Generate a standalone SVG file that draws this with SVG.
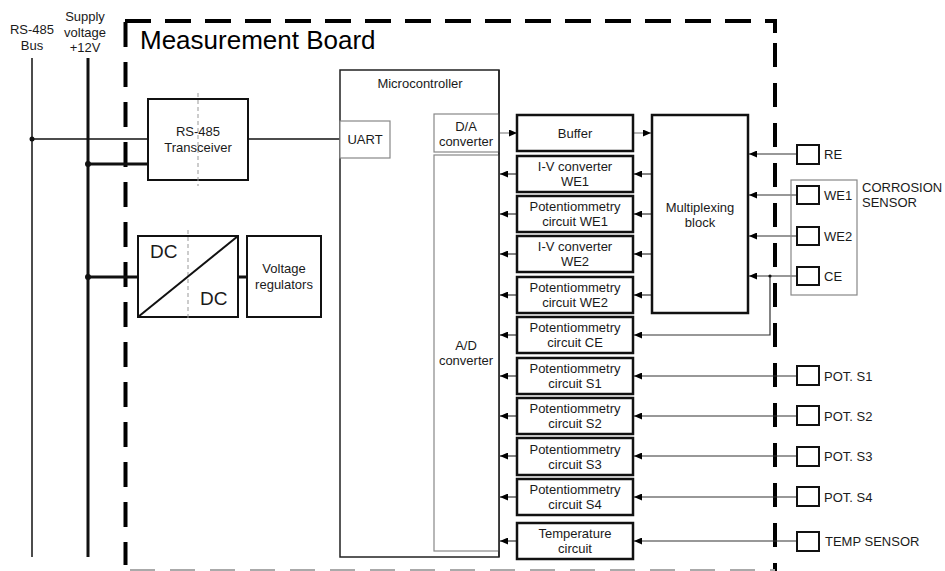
<svg xmlns="http://www.w3.org/2000/svg" width="945" height="571" viewBox="0 0 945 571">
<style>
text{font-family:"Liberation Sans",Arial,sans-serif;font-size:13px;fill:#1a1a1a}
.c{text-anchor:middle}
.blk{fill:#fff;stroke:#111;stroke-width:2.5}
.mid{fill:#fff;stroke:#111;stroke-width:2}
.gry{fill:#fff;stroke:#888;stroke-width:1.2}
.sq{fill:#fff;stroke:#111;stroke-width:2}
.ln{fill:none;stroke:#333;stroke-width:1.2}
.lg{fill:none;stroke:#888;stroke-width:1.2}
.ar{marker-end:url(#ah)}
.dsh{fill:none;stroke:#999;stroke-width:1;stroke-dasharray:4 3}
.brd{fill:none;stroke:#000;stroke-width:4}
</style>
<defs>
<marker id="ah" markerUnits="userSpaceOnUse" markerWidth="8" markerHeight="7" refX="8" refY="3.5" orient="auto">
<path d="M0,0 L8,3.5 L0,7 z" fill="#000"/>
</marker>
</defs>
<rect width="945" height="571" fill="#fff"/>

<g id="board-border">
<path class="brd" d="M125,21 H775 V33" stroke-dasharray="26 14"/>
<path class="brd" d="M775,43 V571" stroke-dasharray="24 16"/>
<path class="brd" d="M125.5,22 V565" stroke-dasharray="25 15"/>
<path d="M130,570 H775" fill="none" stroke="#aaa" stroke-width="2" stroke-dasharray="25 15"/>
<text x="140" y="49" style="font-size:26px;fill:#000">Measurement Board</text>
</g>

<g id="bus-labels">
<text class="c" x="32" y="34">RS-485</text>
<text class="c" x="32" y="50">Bus</text>
<text class="c" x="85" y="21">Supply</text>
<text class="c" x="85" y="37">voltage</text>
<text class="c" x="85" y="52">+12V</text>
</g>

<g id="connectors">
<line x1="32" y1="58" x2="32" y2="557" stroke="#111" stroke-width="1.5"/>
<line x1="88" y1="58" x2="88" y2="557" stroke="#111" stroke-width="3"/>
<line x1="32" y1="139" x2="148" y2="139" stroke="#111" stroke-width="1.5"/>
<line x1="248" y1="139" x2="340" y2="139" stroke="#111" stroke-width="1.5"/>
<line x1="88" y1="164" x2="148" y2="164" stroke="#111" stroke-width="3"/>
<line x1="88" y1="277" x2="138" y2="277" stroke="#111" stroke-width="3"/>
<line x1="238" y1="277" x2="247" y2="277" stroke="#111" stroke-width="3"/>
<circle cx="32" cy="139" r="2.5" fill="#111"/>
<circle cx="88" cy="164" r="3" fill="#111"/>
<circle cx="88" cy="277" r="3" fill="#111"/>

<path class="lg ar" d="M499,133 H517"/>
<path class="lg ar" d="M633,133 H651"/>
<path class="ln ar" d="M652,174 H634"/>
<path class="ln ar" d="M652,214 H634"/>
<path class="ln ar" d="M652,254 H634"/>
<path class="ln ar" d="M652,295 H634"/>

<path class="ln ar" d="M517,174 H500"/>
<path class="ln ar" d="M517,214 H500"/>
<path class="ln ar" d="M517,254 H500"/>
<path class="ln ar" d="M517,295 H500"/>
<path class="ln ar" d="M517,335 H500"/>
<path class="ln ar" d="M517,376 H500"/>
<path class="ln ar" d="M517,416 H500"/>
<path class="ln ar" d="M517,456 H500"/>
<path class="ln ar" d="M517,497 H500"/>
<path class="ln ar" d="M517,541 H500"/>

<path class="ln ar" d="M797,154 H749"/>
<path class="ln ar" d="M797,195 H749"/>
<path class="ln ar" d="M797,236 H749"/>
<path class="ln ar" d="M797,276 H749"/>
<path class="ln ar" d="M770,276 V335 H634"/>
<circle cx="770" cy="276" r="1.6" fill="#111"/>

<path class="ln ar" d="M797,376 H634"/>
<path class="ln ar" d="M797,416 H634"/>
<path class="ln ar" d="M797,456 H634"/>
<path class="ln ar" d="M797,497 H634"/>
<path class="ln ar" d="M797,541 H634"/>
</g>

<g id="rs485-transceiver">
<rect class="mid" x="148" y="99" width="100" height="81"/>
<line class="dsh" x1="198" y1="93" x2="198" y2="186"/>
<text class="c" x="198" y="135.5">RS-485</text>
<text class="c" x="198" y="151.5">Transceiver</text>
</g>

<g id="dcdc">
<rect class="mid" x="138" y="236" width="100" height="81"/>
<line class="dsh" x1="188" y1="230" x2="188" y2="321"/>
<line x1="138" y1="317" x2="238" y2="236" stroke="#111" stroke-width="2"/>
<text x="150" y="258" style="font-size:19px">DC</text>
<text x="200" y="305" style="font-size:19px">DC</text>
</g>

<g id="voltage-regulators">
<rect class="mid" x="247" y="236" width="74" height="81"/>
<text class="c" x="284" y="272.5">Voltage</text>
<text class="c" x="284" y="288.5">regulators</text>
</g>

<g id="microcontroller">
<rect x="340" y="70" width="159" height="487" fill="#fff" stroke="#222" stroke-width="1.5"/>
<text class="c" x="420" y="87.5">Microcontroller</text>
</g>
<g id="uart">
<rect class="gry" x="340" y="121" width="50" height="37"/>
<text class="c" x="365" y="143.5">UART</text>
</g>
<g id="da-converter">
<rect class="gry" x="434" y="114" width="65" height="38"/>
<text class="c" x="466" y="130.5">D/A</text>
<text class="c" x="466" y="145.5">converter</text>
</g>
<g id="ad-converter">
<rect class="gry" x="434" y="155" width="65" height="396"/>
<text class="c" x="466" y="349.5">A/D</text>
<text class="c" x="466" y="364.5">converter</text>
</g>
<line x1="499" y1="70" x2="499" y2="557" stroke="#222" stroke-width="1.5"/>

<g id="buffer">
<rect class="blk" x="517" y="115" width="116" height="36"/>
<text class="c" x="575" y="137.5">Buffer</text>
</g>
<g id="iv-we1">
<rect class="blk" x="517" y="156" width="116" height="36"/>
<text class="c" x="575" y="171">I-V converter</text>
<text class="c" x="575" y="186">WE1</text>
</g>
<g id="pot-we1">
<rect class="blk" x="517" y="196" width="116" height="36"/>
<text class="c" x="575" y="211">Potentiommetry</text>
<text class="c" x="575" y="226">circuit WE1</text>
</g>
<g id="iv-we2">
<rect class="blk" x="517" y="236" width="116" height="36"/>
<text class="c" x="575" y="251">I-V converter</text>
<text class="c" x="575" y="266">WE2</text>
</g>
<g id="pot-we2">
<rect class="blk" x="517" y="277" width="116" height="36"/>
<text class="c" x="575" y="292">Potentiommetry</text>
<text class="c" x="575" y="307">circuit WE2</text>
</g>
<g id="pot-ce">
<rect class="blk" x="517" y="317" width="116" height="36"/>
<text class="c" x="575" y="332">Potentiommetry</text>
<text class="c" x="575" y="347">circuit CE</text>
</g>
<g id="pot-s1">
<rect class="blk" x="517" y="358" width="116" height="36"/>
<text class="c" x="575" y="373">Potentiommetry</text>
<text class="c" x="575" y="388">circuit S1</text>
</g>
<g id="pot-s2">
<rect class="blk" x="517" y="398" width="116" height="36"/>
<text class="c" x="575" y="413">Potentiommetry</text>
<text class="c" x="575" y="428">circuit S2</text>
</g>
<g id="pot-s3">
<rect class="blk" x="517" y="438" width="116" height="37"/>
<text class="c" x="575" y="453.5">Potentiommetry</text>
<text class="c" x="575" y="468.5">circuit S3</text>
</g>
<g id="pot-s4">
<rect class="blk" x="517" y="479" width="116" height="36"/>
<text class="c" x="575" y="494">Potentiommetry</text>
<text class="c" x="575" y="509">circuit S4</text>
</g>
<g id="temperature-circuit">
<rect class="blk" x="517" y="523" width="116" height="36"/>
<text class="c" x="575" y="538">Temperature</text>
<text class="c" x="575" y="553">circuit</text>
</g>

<g id="multiplexing-block">
<rect class="blk" x="652" y="115" width="96" height="198"/>
<text class="c" x="700" y="211.5">Multiplexing</text>
<text class="c" x="700" y="226.5">block</text>
</g>

<g id="corrosion-sensor">
<rect x="791" y="180" width="66" height="115" fill="none" stroke="#888" stroke-width="1.2"/>
<text x="862" y="191.5">CORROSION</text>
<text x="862" y="206.5">SENSOR</text>
</g>
<g id="re"><rect class="sq" x="797" y="145" width="22" height="19"/><text x="824" y="159">RE</text></g>
<g id="we1"><rect class="sq" x="797" y="186" width="22" height="18"/><text x="824" y="200">WE1</text></g>
<g id="we2"><rect class="sq" x="797" y="227" width="22" height="18"/><text x="824" y="241">WE2</text></g>
<g id="ce"><rect class="sq" x="797" y="267" width="22" height="18"/><text x="824" y="281">CE</text></g>
<g id="pot-s1-sensor"><rect class="sq" x="797" y="366" width="22" height="19"/><text x="824" y="380.5">POT. S1</text></g>
<g id="pot-s2-sensor"><rect class="sq" x="797" y="406" width="22" height="19"/><text x="824" y="420.5">POT. S2</text></g>
<g id="pot-s3-sensor"><rect class="sq" x="797" y="447" width="22" height="19"/><text x="824" y="461">POT. S3</text></g>
<g id="pot-s4-sensor"><rect class="sq" x="797" y="487" width="22" height="19"/><text x="824" y="501.5">POT. S4</text></g>
<g id="temp-sensor"><rect class="sq" x="797" y="532" width="22" height="19"/><text x="825" y="545.5">TEMP SENSOR</text></g>
</svg>
